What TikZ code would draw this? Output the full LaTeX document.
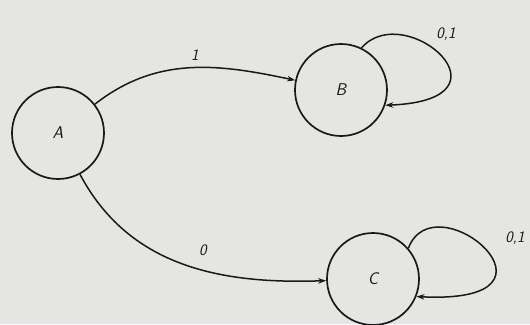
\documentclass[tikz,border=0pt]{standalone}
\usetikzlibrary{arrows.meta}
\definecolor{bg}{RGB}{229,229,226}
\definecolor{ink}{RGB}{25,25,25}
\begin{document}
\begin{tikzpicture}[x=1pt,y=-1pt,
  state/.style={circle,draw=ink,line width=1.7pt,minimum size=92pt,inner sep=0pt,
    font=\fontsize{17}{19}\selectfont\sffamily\itshape,text=ink},
  trans/.style={draw=ink,line width=1.5pt,-{Stealth[length=8pt,width=5.5pt]}},
  lbl/.style={font=\fontsize{16}{18}\selectfont\sffamily\itshape,text=ink,inner sep=0pt}]
\fill[bg] (0,0) rectangle (530,324);
\useasboundingbox (0,0) rectangle (530,324);
\node[state] (A) at (58,133) {A};
\node[state] (B) at (341,90) {B};
\node[state] (C) at (373,279) {C};
\draw[trans] (A) to[out=38,in=168] (B);
\draw[trans] (A) to[out=-62,in=182] (C);
\draw[trans] (B.64) .. controls (405,-2) and (522,100) .. (B.-19);
\draw[trans] (C.41) .. controls (435,178) and (584,305) .. (C.-22);
\node[lbl] (l1) at (195,55) {1};
\node[lbl] (l0) at (203,250) {0};
\node[lbl] (lb) at (446,34) {0,1};
\node[lbl] (lc) at (515,238) {0,1};
\end{tikzpicture}
\end{document}
